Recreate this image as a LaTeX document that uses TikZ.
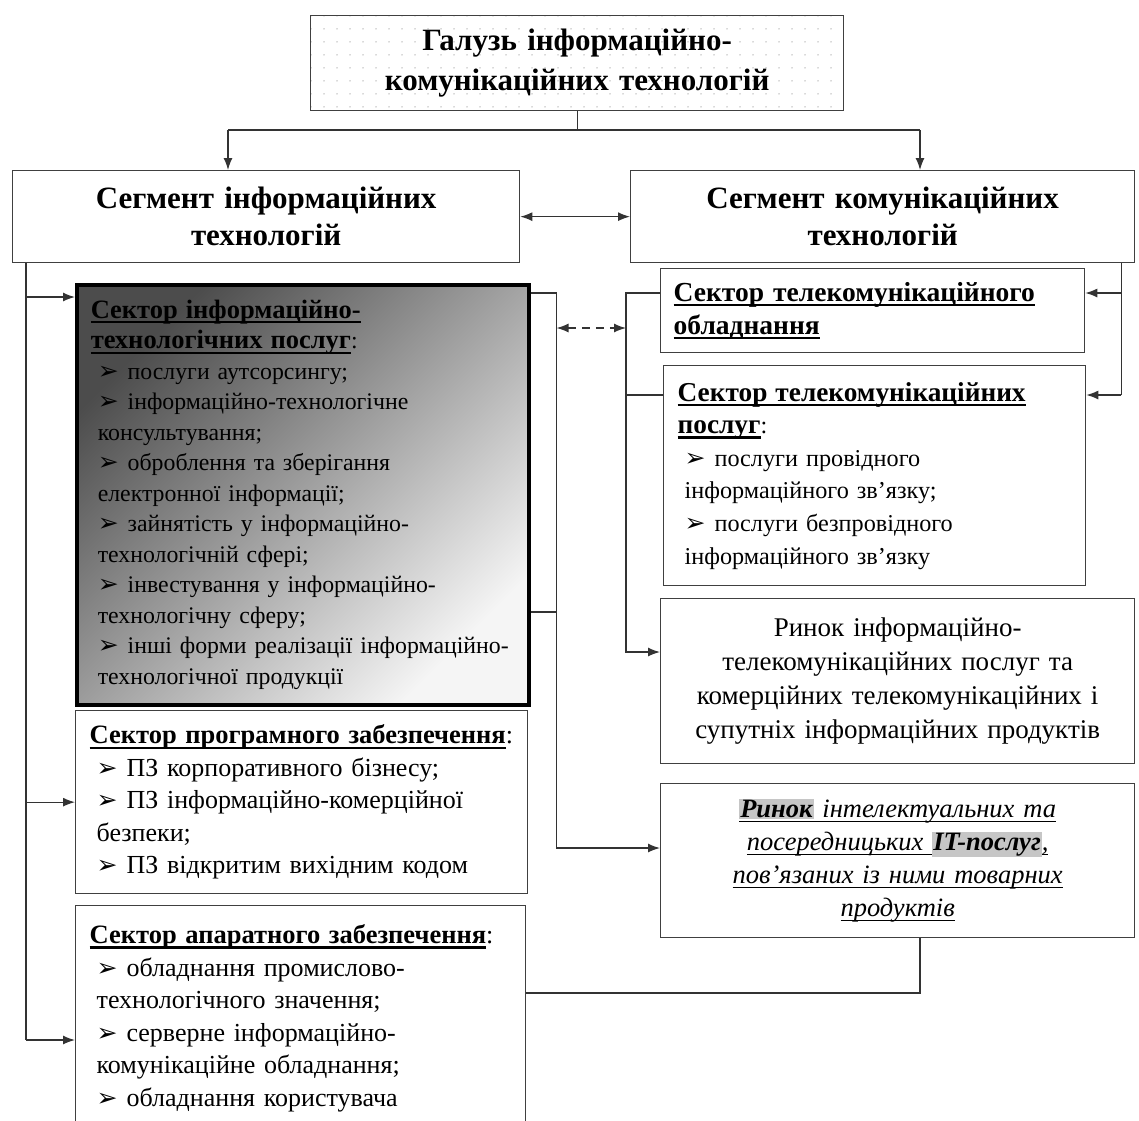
\documentclass[tikz,border=0pt]{standalone}
\usepackage{fontspec}
\setmainfont{Liberation Serif}
\newfontfamily\symfont{DejaVu Sans}
\usetikzlibrary{shapes,arrows.meta,positioning,calc,patterns.meta}

\newcommand{\ulbox}[2][2.2pt]{\setbox0=\hbox{#2}\leavevmode\rlap{\rule[-5pt]{\wd0}{#1}}\box0}
\newcommand{\ttl}[1][26.5]{\fontsize{#1}{30}\selectfont\bfseries}
\newcommand{\itm}{\hspace*{7pt}{\symfont\fontsize{25}{25}\selectfont ➢}\hspace{9pt}}
\newcommand{\cnt}{\hspace*{7pt}}
\setlength{\fboxsep}{1pt}

\begin{document}
\begin{tikzpicture}[x=1pt, y=-1pt]
    % Стилі
    \tikzstyle{block} = [rectangle, draw=black!75, line width=1.3pt, anchor=north west, inner xsep=14pt, inner ysep=10pt, align=left, font=\fontsize{26}{32.5}\selectfont]
    \tikzstyle{seg} = [block, align=center, font=\fontsize{31}{37}\selectfont\bfseries]
    \tikzstyle{line} = [draw, black!80, line width=1.3pt, -{Latex[length=12pt,width=9pt]}]
    \tikzstyle{both} = [line, {Latex[length=12pt,width=9pt]}-{Latex[length=12pt,width=9pt]}]
    \tikzstyle{wire} = [draw, black!80, line width=1.3pt]

    \useasboundingbox (0,0) rectangle (1139,1120);

    % Вузли
    \node [seg, text width=505pt, minimum height=95pt, pattern={Dots[distance=13pt,radius=0.8pt]}, pattern color=gray!60, font=\fontsize{31}{40}\selectfont\bfseries] (galuz) at (310,15) {Галузь інформаційно-\\комунікаційних технологій};
    \node [seg, text width=479pt, minimum height=92pt] (segIT) at (12,170) {Сегмент інформаційних\\технологій};
    \node [seg, text width=476pt, minimum height=92pt] (segKT) at (630,170) {Сегмент комунікаційних\\технологій};

    \node [block, text width=424pt, minimum height=420pt, draw=black, line width=3.5pt, top color=black!70, bottom color=white!96!black, shading angle=45, font=\fontsize{23.8}{30.5}\selectfont] (itp) at (75,283) {%
        \ulbox{\ttl Сектор інформаційно-}\\
        \ulbox{\ttl технологічних послуг}:\\
        \itm послуги аутсорсингу;\\
        \itm інформаційно-технологічне\\
        \cnt консультування;\\
        \itm оброблення та зберігання\\
        \cnt електронної інформації;\\
        \itm зайнятість у інформаційно-\\
        \cnt технологічній сфері;\\
        \itm інвестування у інформаційно-\\
        \cnt технологічну сферу;\\
        \itm інші форми реалізації інформаційно-\\
        \cnt технологічної продукції};
    \node [block, text width=424pt, minimum height=183pt] (soft) at (75,710) {%
        \ulbox{\ttl Сектор програмного забезпечення}:\\
        \itm ПЗ корпоративного бізнесу;\\
        \itm ПЗ інформаційно-комерційної\\
        \cnt безпеки;\\
        \itm ПЗ відкритим вихідним кодом};
    \node [block, text width=422pt, inner ysep=19pt] (hard) at (75,905) {%
        \ulbox{\ttl Сектор апаратного забезпечення}:\\
        \itm обладнання промислово-\\
        \cnt технологічного значення;\\
        \itm серверне інформаційно-\\
        \cnt комунікаційне обладнання;\\
        \itm обладнання користувача\\[40pt]\mbox{}};

    \node [block, text width=398pt, minimum height=84pt, inner xsep=13pt, font=\fontsize{27.5}{33}\selectfont] (teq) at (660,268) {%
        \ulbox{\ttl[27.5]Сектор телекомунікаційного}\\
        \ulbox{\ttl[27.5]обладнання}};
    \node [block, text width=394pt, minimum height=220pt, font=\fontsize{24.2}{32.6}\selectfont] (tsv) at (663,365) {%
        \ulbox{\ttl[27.3]Сектор телекомунікаційних}\\
        \ulbox{\ttl[27.3]послуг}:\\
        \itm послуги провідного\\
        \cnt інформаційного зв’язку;\\
        \itm послуги безпровідного\\
        \cnt інформаційного зв’язку};
    \node [block, text width=446pt, minimum height=165pt, align=center, font=\fontsize{27}{34}\selectfont] (mkt1) at (660,598) {%
        Ринок інформаційно-\\
        телекомунікаційних послуг та\\
        комерційних телекомунікаційних і\\
        супутніх інформаційних продуктів};
    \node [block, text width=446pt, minimum height=154pt, align=center, font=\fontsize{26.5}{33}\selectfont\itshape] (mkt2) at (660,783) {%
        \ulbox[1.6pt]{\colorbox{gray!45}{\textbf{Ринок}} інтелектуальних та}\\
        \ulbox[1.6pt]{посередницьких \colorbox{gray!45}{\textbf{IT-послуг}},}\\
        \ulbox[1.6pt]{пов’язаних із ними товарних}\\
        \ulbox[1.6pt]{продуктів}};

    % З'єднання
    \coordinate (top) at ($(galuz.south)+(0,20)$);
    \coordinate (aIT) at (228,130);
    \coordinate (aKT) at (920,130);
    \draw [wire] (galuz.south) -- (top);
    \draw [wire] (aIT) -- (aKT);
    \path [line] (aIT) -- (aIT |- segIT.north);
    \path [line] (aKT) -- (aKT |- segKT.north);
    \path [both] (segIT.east) -- (segKT.west);

    % ліва гілка
    \coordinate (lt) at ($(segIT.south west)+(14,0)$);
    \coordinate (itpIn) at ($(itp.north west)+(0,14)$);
    \coordinate (hardIn) at ($(hard.north west)+(0,135)$);
    \draw [wire] (lt) -- (lt |- hardIn);
    \path [line] (lt |- itpIn) -- (itpIn);
    \path [line] (lt |- soft.west) -- (soft.west);
    \path [line] (lt |- hardIn) -- (hardIn);

    % права гілка
    \coordinate (rt) at ($(segKT.south east)+(-14,0)$);
    \coordinate (teqIn) at ($(teq.north east)+(0,25)$);
    \coordinate (tsvIn) at ($(tsv.north east)+(0,30)$);
    \draw [wire] (rt) -- (rt |- tsvIn);
    \path [line] (rt |- teqIn) -- (teqIn);
    \path [line] (rt |- tsvIn) -- (tsvIn);

    % ринки
    \coordinate (teqOut) at ($(teq.north west)+(0,25)$);
    \coordinate (tsvOut) at ($(tsv.north west)+(0,30)$);
    \coordinate (mt) at ($(teqOut)+(-34,0)$);
    \coordinate (m1In) at ($(mkt1.north west)+(0,54)$);
    \path [line] (teqOut) -- (mt) |- (m1In);
    \draw [wire] (mt |- tsvOut) -- (tsvOut);

    \coordinate (itpOut) at ($(itp.north east)+(0,10)$);
    \coordinate (itpOut2) at ($(itp.north east)+(0,329)$);
    \coordinate (it) at ($(itpOut)+(26,0)$);
    \coordinate (m2In) at ($(mkt2.north west)+(0,65)$);
    \path [line] (itpOut) -- (it) |- (m2In);
    \draw [wire] (itpOut2) -- (it |- itpOut2);
    \coordinate (dsh) at ($(teq.north west)+(0,60)$);
    \path [both, dash pattern=on 8pt off 6pt] (it |- dsh) -- (mt |- dsh);

    \coordinate (m2Out) at ($(mkt2.south west)+(260,0)$);
    \coordinate (hardOut) at ($(hard.north east)+(0,88)$);
    \draw [wire] (m2Out) |- (hardOut);
\end{tikzpicture}
\end{document}
